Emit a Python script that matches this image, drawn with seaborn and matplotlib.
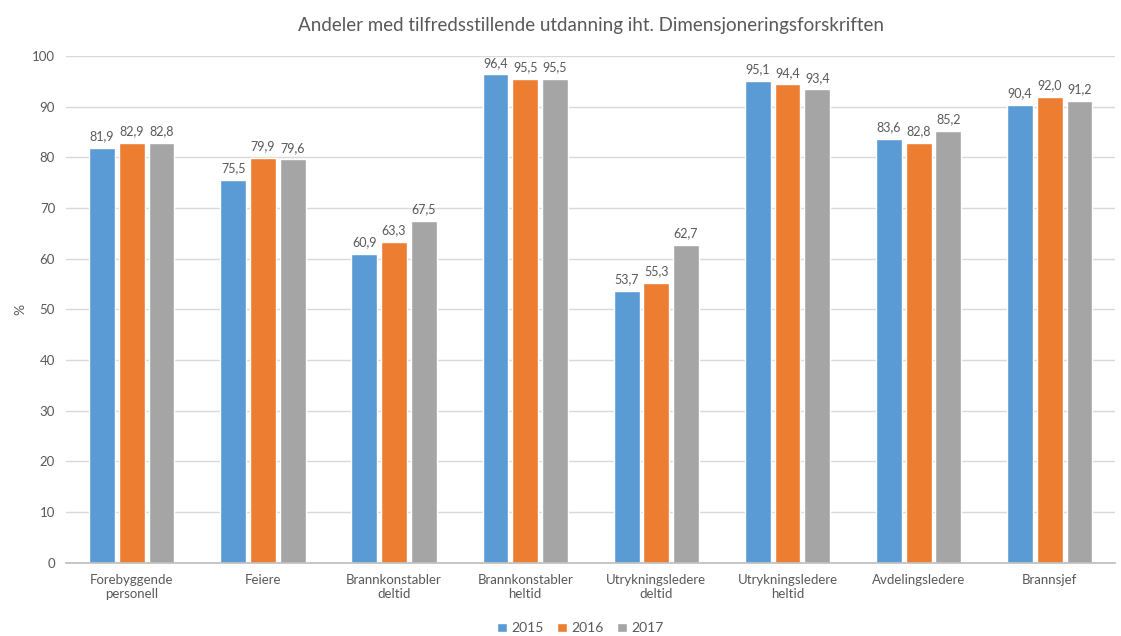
import matplotlib
matplotlib.use("Agg")
import matplotlib.pyplot as plt
import seaborn as sns
import pandas as pd

categories = ["Forebyggende\npersonell", "Feiere", "Brannkonstabler\ndeltid",
              "Brannkonstabler\nheltid", "Utrykningsledere\ndeltid",
              "Utrykningsledere\nheltid", "Avdelingsledere", "Brannsjef"]
years = ["2015", "2016", "2017"]
v2015 = [81.9, 75.5, 60.9, 96.4, 53.7, 95.1, 83.6, 90.4]
v2016 = [82.9, 79.9, 63.3, 95.5, 55.3, 94.4, 82.8, 92.0]
v2017 = [82.8, 79.6, 67.5, 95.5, 62.7, 93.4, 85.2, 91.2]
colors = ["#5B9BD5", "#ED7D31", "#A5A5A5"]

rows = []
for year, vals in zip(years, [v2015, v2016, v2017]):
    for cat, v in zip(categories, vals):
        rows.append({"Kategori": cat, "År": year, "Verdi": v})
df = pd.DataFrame(rows)

sns.set_theme(style="white")
plt.rcParams["font.family"] = ["Lato", "DejaVu Sans"]
txt = "#595959"

fig = plt.figure(figsize=(11.21, 6.36), dpi=100)
ax = fig.add_axes([0.059, 0.115, 0.936, 0.797])

sns.barplot(data=df, x="Kategori", y="Verdi", hue="År", palette=colors,
            width=0.68, ax=ax, saturation=1, legend=True)

# slim each bar a little to leave a gap between neighbours
for patch in ax.patches:
    w = patch.get_width()
    if w <= 0:
        continue
    new_w = w * 0.87
    patch.set_x(patch.get_x() + (w - new_w) / 2)
    patch.set_width(new_w)

for container in ax.containers:
    labels = [f"{v:.1f}".replace(".", ",") for v in container.datavalues]
    ax.bar_label(container, labels=labels, padding=4, fontsize=9, color=txt)

ax.set_ylim(0, 100)
ax.set_yticks(range(0, 101, 10))
ax.set_xlim(-0.5, len(categories) - 0.5)
ax.yaxis.grid(True, color="#D9D9D9", linewidth=1)
ax.set_axisbelow(True)
for s in ["top", "right", "left"]:
    ax.spines[s].set_visible(False)
ax.spines["bottom"].set_color("#BFBFBF")
ax.tick_params(axis="both", colors=txt, labelsize=9.5, length=0, pad=8)
ax.set_xlabel("")
ax.set_ylabel("%", color=txt, fontsize=10, labelpad=4)

ax.set_title("Andeler med tilfredsstillende utdanning iht. Dimensjoneringsforskriften",
             fontsize=13.5, color=txt, pad=18)

leg = ax.legend(loc="upper center", bbox_to_anchor=(0.49, -0.098), ncol=3,
                frameon=False, fontsize=10, handlelength=0.7, handleheight=0.7,
                handletextpad=0.3, columnspacing=1.0, borderpad=0.2)
for t in leg.get_texts():
    t.set_color(txt)

fig.savefig("out.png", dpi=100)
